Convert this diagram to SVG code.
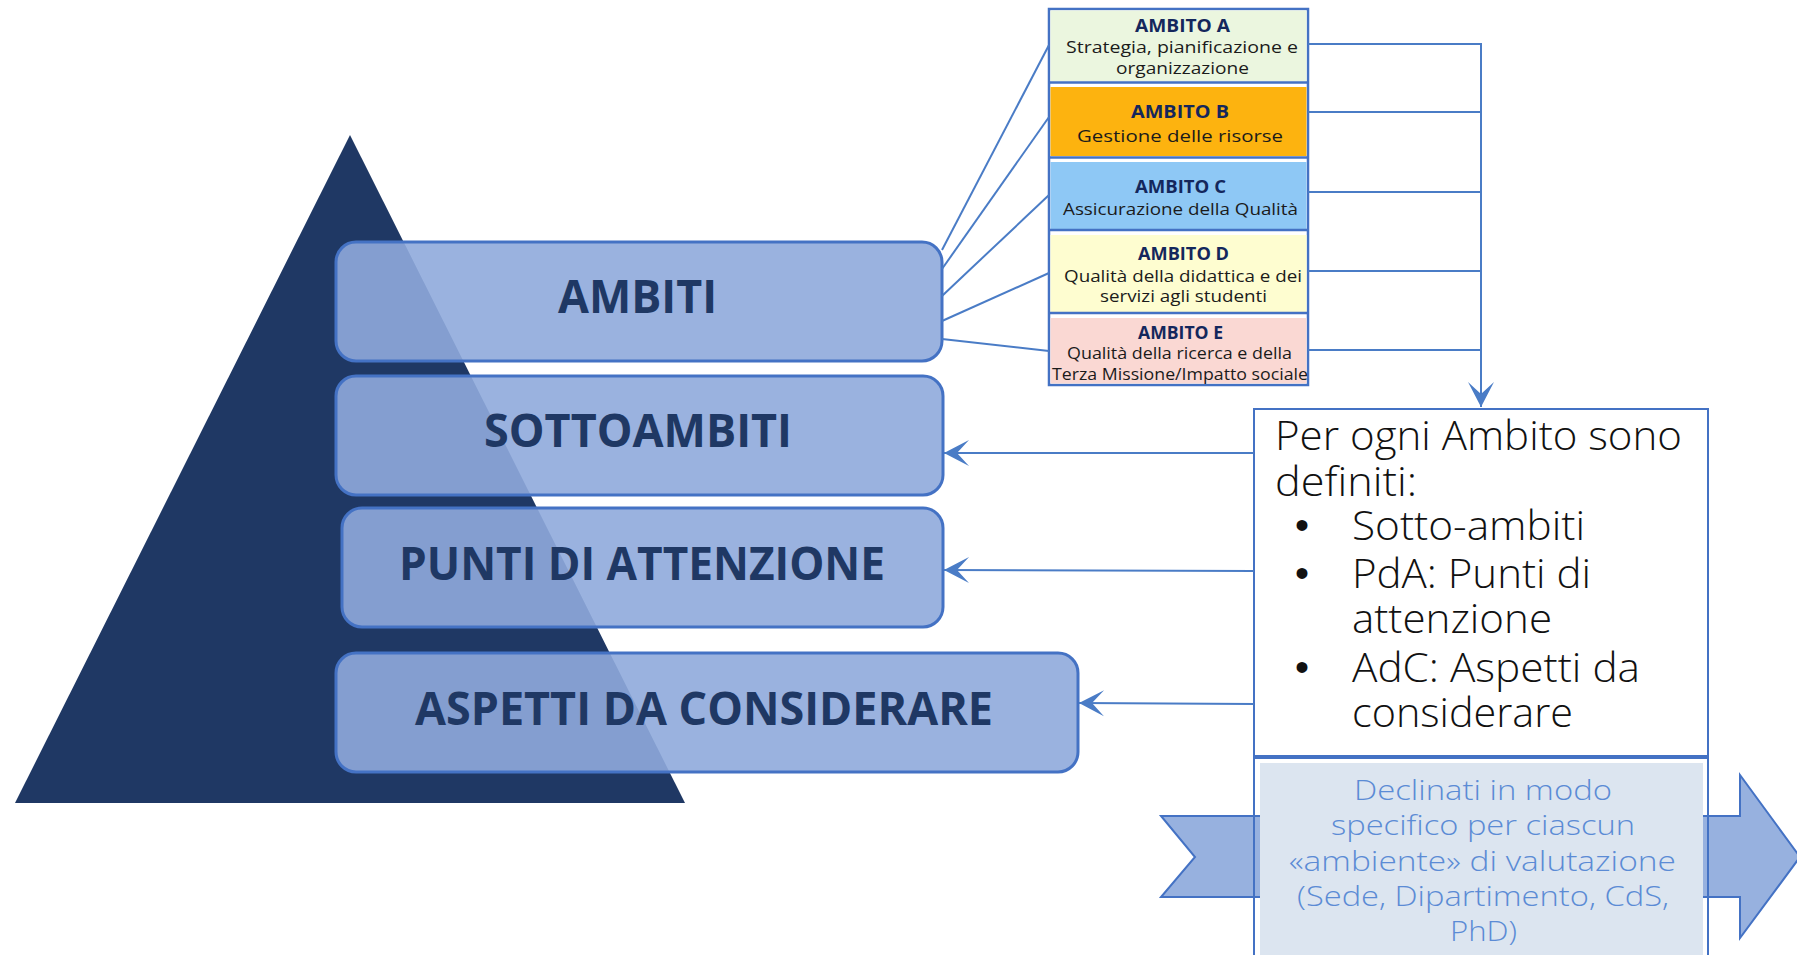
<svg xmlns="http://www.w3.org/2000/svg" width="1797" height="955" viewBox="0 0 1797 955">
<style>
.lvl{fill:#8FAADC;fill-opacity:0.9;stroke:#4472C4;stroke-width:3}
.lvlt{font-family:"Open Sans","Liberation Sans",sans-serif;font-weight:700;font-size:46px;fill:#1F3864}
.conn{stroke:#4A7CC6;stroke-width:2;fill:none}
.tt{font-family:"Open Sans","Liberation Sans",sans-serif;font-weight:700;font-size:17px;fill:#14275C}
.tb{font-family:"Open Sans","Liberation Sans",sans-serif;font-size:17px;fill:#1B1B1B}
.big{font-family:"Open Sans","Liberation Sans",sans-serif;font-weight:300;font-size:40px;fill:#111111}
.bul{font-family:"Liberation Sans",sans-serif;font-size:40px;fill:#111111}
.dec{font-family:"Open Sans","Liberation Sans",sans-serif;font-weight:300;font-size:28px;fill:#5B8BD5}
.row{stroke:none}
</style>
<defs>
<marker id="stealth" viewBox="-27 -15 30 30" refX="0" refY="0" markerWidth="30" markerHeight="30" markerUnits="userSpaceOnUse" orient="auto">
<path d="M0,0 L-25,-13 L-13,0 L-25,13 Z" fill="#4A7CC6"/>
</marker>
</defs>
<rect width="1797" height="955" fill="#FFFFFF"/>

<g id="pyramid">
<polygon points="350,135 685,803 15,803" fill="#1F3864"/>
</g>

<g id="box-ambiti">
<rect class="lvl" x="336" y="242" width="606" height="119" rx="20"/>
<text class="lvlt" x="558" y="313" textLength="159" lengthAdjust="spacingAndGlyphs">AMBITI</text>
</g>
<g id="box-sottoambiti">
<rect class="lvl" x="336" y="376" width="607" height="119" rx="20"/>
<text class="lvlt" x="484" y="447" textLength="308" lengthAdjust="spacingAndGlyphs">SOTTOAMBITI</text>
</g>
<g id="box-punti">
<rect class="lvl" x="342" y="508" width="601" height="119" rx="20"/>
<text class="lvlt" x="399" y="580" textLength="486" lengthAdjust="spacingAndGlyphs">PUNTI DI ATTENZIONE</text>
</g>
<g id="box-aspetti">
<rect class="lvl" x="336" y="653" width="742" height="119" rx="20"/>
<text class="lvlt" x="415" y="725" textLength="578" lengthAdjust="spacingAndGlyphs">ASPETTI DA CONSIDERARE</text>
</g>

<g id="table-ambiti">
<rect x="1049" y="9" width="259" height="376" fill="#FFFFFF" stroke="#4472C4" stroke-width="2.5"/>
<g id="ambito-a">
<rect class="row" x="1050.5" y="10.5" width="256" height="71" fill="#EBF6DF"/>
<line x1="1049" y1="82.5" x2="1308" y2="82.5" stroke="#4472C4" stroke-width="2.5"/>
<text class="tt" x="1135" y="32" textLength="95" lengthAdjust="spacingAndGlyphs">AMBITO A</text>
<text class="tb" x="1066" y="53" textLength="232" lengthAdjust="spacingAndGlyphs">Strategia, pianificazione e</text>
<text class="tb" x="1116" y="74" textLength="133" lengthAdjust="spacingAndGlyphs">organizzazione</text>
</g>
<g id="ambito-b">
<rect class="row" x="1050.5" y="87" width="256" height="69" fill="#FDB30F"/>
<line x1="1049" y1="157.5" x2="1308" y2="157.5" stroke="#4472C4" stroke-width="2.5"/>
<text class="tt" x="1131" y="118" textLength="98" lengthAdjust="spacingAndGlyphs">AMBITO B</text>
<text class="tb" x="1077" y="141.5" textLength="206" lengthAdjust="spacingAndGlyphs">Gestione delle risorse</text>
</g>
<g id="ambito-c">
<rect class="row" x="1050.5" y="162" width="256" height="67" fill="#8EC8F5"/>
<line x1="1049" y1="230" x2="1308" y2="230" stroke="#4472C4" stroke-width="2.5"/>
<text class="tt" x="1135" y="193" textLength="91" lengthAdjust="spacingAndGlyphs">AMBITO C</text>
<text class="tb" x="1063" y="215" textLength="235" lengthAdjust="spacingAndGlyphs">Assicurazione della Qualità</text>
</g>
<g id="ambito-d">
<rect class="row" x="1050.5" y="235" width="256" height="77" fill="#FEFDD0"/>
<line x1="1049" y1="313" x2="1308" y2="313" stroke="#4472C4" stroke-width="2.5"/>
<text class="tt" x="1138" y="260" textLength="91" lengthAdjust="spacingAndGlyphs">AMBITO D</text>
<text class="tb" x="1064" y="281.5" textLength="238" lengthAdjust="spacingAndGlyphs">Qualità della didattica e dei</text>
<text class="tb" x="1100" y="301.5" textLength="167" lengthAdjust="spacingAndGlyphs">servizi agli studenti</text>
</g>
<g id="ambito-e">
<rect class="row" x="1050.5" y="318" width="256" height="65.5" fill="#FAD8D3"/>
<text class="tt" x="1138" y="339" textLength="85" lengthAdjust="spacingAndGlyphs">AMBITO E</text>
<text class="tb" x="1067" y="359" textLength="225" lengthAdjust="spacingAndGlyphs">Qualità della ricerca e della</text>
<text class="tb" x="1052" y="380" textLength="256" lengthAdjust="spacingAndGlyphs">Terza Missione/Impatto sociale</text>
</g>
</g>

<g id="big-arrow">
<polygon points="1161,816 1740,816 1740,775 1800,857 1740,938 1740,897 1161,897 1195,857" fill="#97B1DF" stroke="#4472C4" stroke-width="2"/>
</g>

<g id="box-per-ogni">
<rect x="1254" y="409" width="454" height="347" fill="#FFFFFF" stroke="#4472C4" stroke-width="2"/>
<text class="big" x="1275" y="450" textLength="407" lengthAdjust="spacingAndGlyphs">Per ogni Ambito sono</text>
<text class="big" x="1275" y="496" textLength="142" lengthAdjust="spacingAndGlyphs">definiti:</text>
<text class="bul" x="1302" y="539" text-anchor="middle">•</text>
<text class="big" x="1352" y="540" textLength="233" lengthAdjust="spacingAndGlyphs">Sotto-ambiti</text>
<text class="bul" x="1302" y="587" text-anchor="middle">•</text>
<text class="big" x="1352" y="588" textLength="239" lengthAdjust="spacingAndGlyphs">PdA: Punti di</text>
<text class="big" x="1352" y="633" textLength="200" lengthAdjust="spacingAndGlyphs">attenzione</text>
<text class="bul" x="1302" y="681" text-anchor="middle">•</text>
<text class="big" x="1352" y="682" textLength="288" lengthAdjust="spacingAndGlyphs">AdC: Aspetti da</text>
<text class="big" x="1352" y="727" textLength="221" lengthAdjust="spacingAndGlyphs">considerare</text>
</g>

<g id="box-declinati">
<rect x="1254" y="758" width="454" height="210" fill="none" stroke="#4472C4" stroke-width="2"/>
<rect x="1260" y="763" width="443" height="200" fill="#DCE5F0"/>
<text class="dec" x="1354" y="800" textLength="258" lengthAdjust="spacingAndGlyphs">Declinati in modo</text>
<text class="dec" x="1331" y="835" textLength="304" lengthAdjust="spacingAndGlyphs">specifico per ciascun</text>
<text class="dec" x="1289" y="871" textLength="387" lengthAdjust="spacingAndGlyphs">«ambiente» di valutazione</text>
<text class="dec" x="1297" y="906" textLength="372" lengthAdjust="spacingAndGlyphs">(Sede, Dipartimento, CdS,</text>
<text class="dec" x="1450" y="941" textLength="67" lengthAdjust="spacingAndGlyphs">PhD)</text>
</g>

<g id="connectors">
<line class="conn" x1="942" y1="250" x2="1049" y2="45"/>
<line class="conn" x1="942" y1="269" x2="1049" y2="117"/>
<line class="conn" x1="942" y1="296" x2="1049" y2="195"/>
<line class="conn" x1="942" y1="321" x2="1049" y2="273"/>
<line class="conn" x1="942" y1="339" x2="1049" y2="351"/>
<line class="conn" x1="1308" y1="44" x2="1482" y2="44"/>
<line class="conn" x1="1308" y1="112" x2="1482" y2="112"/>
<line class="conn" x1="1308" y1="192" x2="1482" y2="192"/>
<line class="conn" x1="1308" y1="271" x2="1482" y2="271"/>
<line class="conn" x1="1308" y1="350" x2="1482" y2="350"/>
<line class="conn" x1="1481" y1="43" x2="1481" y2="407" marker-end="url(#stealth)"/>
<line class="conn" x1="1254" y1="453" x2="944" y2="453" marker-end="url(#stealth)"/>
<line class="conn" x1="1254" y1="571" x2="944" y2="570" marker-end="url(#stealth)"/>
<line class="conn" x1="1254" y1="704" x2="1079" y2="703" marker-end="url(#stealth)"/>
</g>
</svg>
